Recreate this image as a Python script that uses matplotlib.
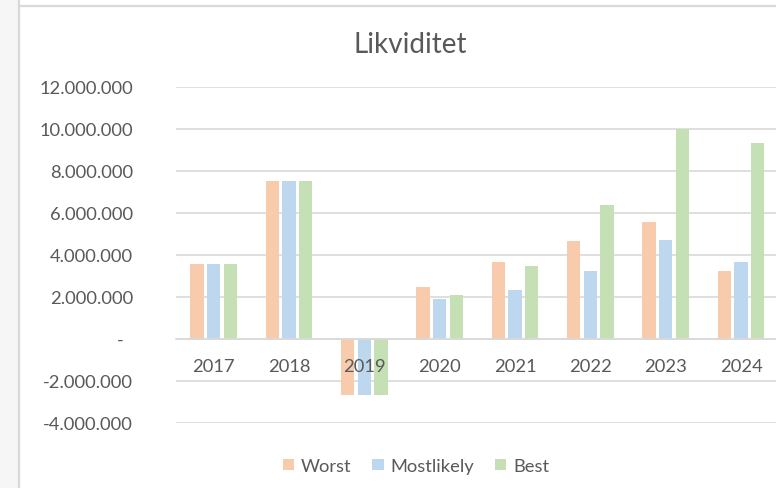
import matplotlib
matplotlib.use("Agg")
import matplotlib.pyplot as plt
from matplotlib.patches import Patch, Rectangle
from matplotlib.lines import Line2D
from matplotlib.ticker import FuncFormatter, MultipleLocator

plt.rcParams['font.family'] = ['Lato', 'DejaVu Sans']

years = ["2017", "2018", "2019", "2020", "2021", "2022", "2023", "2024"]
worst = [3570000, 7520000, -2670000, 2460000, 3680000, 4680000, 5590000, 3240000]
mostlikely = [3570000, 7520000, -2670000, 1900000, 2320000, 3240000, 4730000, 3670000]
best = [3570000, 7520000, -2670000, 2110000, 3480000, 6380000, 10000000, 9330000]
series_names = ["Worst", "Mostlikely", "Best"]
colors = ["#F8CBAD", "#BDD7EE", "#C5E0B4"]

W, H = 776, 489
fig = plt.figure(figsize=(W / 100, H / 100), dpi=100)

# frame decorations
fig.patches.append(Rectangle((0, 0), 18 / W, 1, transform=fig.transFigure,
                             facecolor="#f6f6f6", edgecolor="none", zorder=0))
fig.lines.append(Line2D([19 / W, 19 / W], [0, 1], transform=fig.transFigure,
                        color="#d9d9d9", lw=1.6))
fig.lines.append(Line2D([19 / W, 1], [1 - 6.5 / H, 1 - 6.5 / H], transform=fig.transFigure,
                        color="#d9d9d9", lw=1.6))

ax_left, ax_right = 176, 778.7
ax_top, ax_bottom = 88, 424
ax = fig.add_axes([ax_left / W, 1 - ax_bottom / H, (ax_right - ax_left) / W, (ax_bottom - ax_top) / H])
ax.set_facecolor("none")

x = list(range(len(years)))
bw = 0.178
off = 0.22
for i, (vals, c) in enumerate(zip([worst, mostlikely, best], colors)):
    ax.bar([xi + (i - 1) * off for xi in x], vals, width=bw, color=c, zorder=2, label=series_names[i])

ax.set_xlim(-0.5, len(years) - 0.5)
ax.set_ylim(-4000000, 12000000)
ax.yaxis.set_major_locator(MultipleLocator(2000000))

def fmt(v, pos):
    if abs(v) < 1:
        return "-  "
    return f"{int(round(v)):,}".replace(",", ".")

ax.yaxis.set_major_formatter(FuncFormatter(fmt))
for yv in range(-4000000, 12000001, 2000000):
    ax.axhline(yv, color="#d9d9d9", lw=1.2, zorder=1)
for s in ["left", "right", "top"]:
    ax.spines[s].set_visible(False)
ax.spines["bottom"].set_position(("data", 0))
ax.spines["bottom"].set_color("#d9d9d9")
ax.spines["bottom"].set_linewidth(1.2)
ax.spines["bottom"].set_zorder(4)
ax.xaxis.set_zorder(5)
ax.set_xticks(x)
ax.set_xticklabels(years)
ax.tick_params(axis="x", length=0, pad=13.5, labelsize=13.2, labelcolor="#595959")
ax.tick_params(axis="y", length=0, pad=31, labelsize=13.2, labelcolor="#595959")

fig.text(410 / W, 1 - 45 / H, "Likviditet", ha="center", va="center",
         fontsize=20, color="#595959")

handles = [Patch(facecolor=c, edgecolor="none") for c in colors]
fig.legend(handles, series_names, loc="center", bbox_to_anchor=(416 / W, 1 - 467 / H),
           ncol=3, frameon=False, fontsize=13.2, labelcolor="#595959",
           handlelength=0.62, handleheight=0.62, handletextpad=0.35, columnspacing=1.15)

fig.savefig("out.png", dpi=100)
